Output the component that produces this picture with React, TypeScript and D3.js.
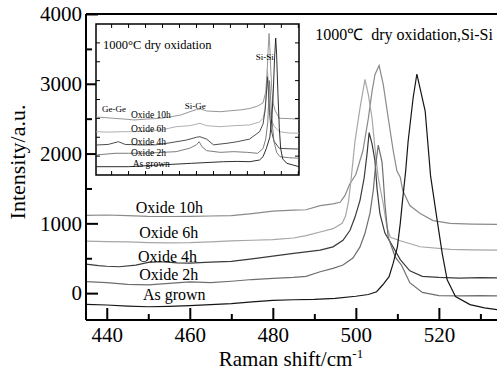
import React, { useEffect, useRef } from 'react';
import * as d3 from 'd3';

// main chart series: [Raman shift, intensity]
const asGrown: [number, number][] = [
  [435, -160], [440, -170], [445, -185], [450, -195], [455, -190], [460, -180], [465, -165],
  [470, -150], [475, -125], [480, -105], [485, -95], [490, -90], [495, -75], [500, -45],
  [503, -20], [505, 20], [506.5, 120], [508, 235], [509, 430], [510, 660], [510.7, 1000],
  [511.2, 1300], [512, 1750], [512.6, 2180], [513.8, 2800], [514.7, 3140], [516.7, 2610],
  [518, 1680], [519.6, 1040], [520.8, 570], [522, 190], [524, -50], [527.5, -165],
  [531, -210], [534, -237],
];

const oxide2h: [number, number][] = [
  [435, 165], [440, 150], [445, 125], [450, 118], [455, 140], [460, 160], [465, 150],
  [470, 170], [475, 195], [480, 212], [485, 225], [488, 240], [491.4, 307], [494.5, 355],
  [496.9, 402], [499.3, 502], [501, 663], [502.2, 857], [503.4, 1142], [504.2, 1470],
  [504.7, 1800], [505.4, 2120], [506.3, 1880], [506.6, 1650], [507, 1280], [507.8, 800],
  [509.5, 516], [511, 400], [513, 150], [516, 10], [520, -35], [525, -40], [530, -35], [534, -38],
];

const oxide4h: [number, number][] = [
  [435, 417], [438, 395], [440, 385], [443, 378], [447, 402], [450, 440], [453, 450],
  [457, 435], [460, 430], [465, 445], [470, 455], [475, 490], [480, 530], [485, 570],
  [488, 590], [491.4, 616], [494.5, 663], [496.9, 758], [498.6, 900], [499.8, 1090],
  [501, 1330], [502, 1650], [502.7, 2000], [503.2, 2300], [503.9, 2140], [504.6, 1900],
  [505.1, 1500], [505.8, 1140], [507, 860], [508.7, 690], [510.7, 480], [513, 320],
  [516, 240], [520, 225], [525, 215], [530, 222], [534, 218],
];

const oxide6h: [number, number][] = [
  [435, 744], [440, 738], [445, 734], [450, 724], [455, 720], [460, 724], [465, 735],
  [470, 748], [475, 758], [480, 768], [485, 790], [488, 825], [491.4, 876], [494.5, 924],
  [496.7, 1000], [497.5, 1100], [498.2, 1300], [498.8, 1600], [499.8, 2180], [501, 2650],
  [502.2, 3062], [503, 2850], [503.9, 2510], [504.6, 2080], [505.4, 1650], [506.6, 1280],
  [507.5, 940], [508.3, 800], [510.7, 750], [515.5, 665], [522.7, 626], [528, 620], [534, 616],
];

const oxide10h: [number, number][] = [
  [435, 1114], [440, 1120], [445, 1110], [450, 1100], [455, 1098], [460, 1100], [465, 1105],
  [470, 1110], [475, 1140], [480, 1175], [485, 1190], [488, 1195], [491.4, 1255], [494.5, 1280],
  [496.2, 1302], [497.4, 1400], [498.5, 1560], [500, 1700], [501.7, 2040], [503, 2500],
  [503.9, 2890], [504.6, 3130], [505.6, 3262], [506.6, 2990], [507.8, 2510], [509, 2040],
  [509.9, 1750], [510.7, 1660], [511.3, 1470], [513, 1255], [515.5, 1140], [518.6, 1040],
  [522.7, 1000], [528, 990], [534, 985],
];

// inset series (wide range spectrum)
const insetAsGrown: [number, number][] = [
  [252, 440], [300, 440], [345, 530], [393, 620], [440, 705], [460, 720], [478.5, 705],
  [493, 795], [498, 970], [503, 1414], [508, 2000], [511, 3000], [513, 4300], [515, 6200],
  [516.7, 7250], [518, 6400], [520, 4300], [522, 2500], [524, 1400], [527, 850], [533, 620], [551, 440],
];
const inset2h: [number, number][] = [
  [252, 1060], [280, 1150], [300, 1150], [320, 1150], [350, 1200], [370, 1236], [390, 1420],
  [400, 1600], [404, 1764], [408, 1500], [415, 1290], [435, 1200], [455, 1236], [475, 1200],
  [490, 1150], [498, 1400], [502, 1900], [505, 2800], [507.5, 5000], [509, 4200], [511, 3000],
  [514, 1800], [518, 1200], [523, 970], [535, 920], [551, 885],
];
const inset4h: [number, number][] = [
  [252, 1589], [270, 1620], [285, 1764], [295, 1620], [320, 1589], [340, 1600], [360, 1700],
  [385, 1850], [400, 2000], [405, 2029], [415, 1900], [425, 1600], [445, 1680], [460, 1764],
  [478, 1900], [493, 2294], [498, 2700], [501, 3400], [503, 4300], [504.5, 5200], [506, 4400],
  [507.5, 3300], [510, 2400], [514, 1800], [522, 1414], [535, 1390], [551, 1377],
];
const inset6h: [number, number][] = [
  [252, 2294], [270, 2270], [290, 2294], [310, 2294], [325, 2330], [347, 2384], [360, 2480],
  [370, 2559], [390, 2612], [405, 2739], [415, 2612], [435, 2559], [455, 2612], [478, 2650],
  [493, 2810], [498, 3000], [501, 3500], [503, 4500], [504.5, 5600], [506, 4800], [507.5, 3800],
  [510, 3000], [514, 2600], [522, 2294], [535, 2230], [551, 2209],
];
const inset10h: [number, number][] = [
  [252, 3073], [265, 3040], [278, 3004], [295, 2960], [308, 2914], [325, 2960], [347, 3004],
  [365, 3100], [377, 3179], [390, 3350], [400, 3470], [406, 3497], [415, 3391], [435, 3354],
  [449, 3400], [465, 3450], [478, 3520], [490, 3650], [498, 3820], [502, 4400], [504, 5400],
  [505.5, 6600], [506.9, 7500], [508, 6800], [509.5, 5500], [511, 4500], [513, 3800],
  [516, 3400], [522, 3004], [535, 2990], [551, 2960],
];

const seriesNames = ['Oxide 10h', 'Oxide 6h', 'Oxide 4h', 'Oxide 2h', 'As grown'];
const seriesColors = ['#8a8a8a', '#a6a6a6', '#3a3a3a', '#6e6e6e', '#161616'];
const mainSeries = [oxide10h, oxide6h, oxide4h, oxide2h, asGrown];
const insetSeries = [inset10h, inset6h, inset4h, inset2h, insetAsGrown];

// label anchors in data units
const mainLabelPos: [number, number][] = [[447, 1142], [447.8, 786], [447.5, 445], [447.8, 189], [448.7, -95]];
const insetLabelPos: [number, number][] = [[303.5, 3020], [303.5, 2294], [303.5, 1589], [303.5, 1022], [306, 440]];

const xMajor = [440, 460, 480, 500, 520];
const xMinor = [450, 470, 490, 510, 530];
const yMajor = [0, 1000, 2000, 3000, 4000];
const yMinor = [500, 1500, 2500, 3500];
const insetXTicks = d3.range(275, 551, 25);
const insetYTicks = d3.range(1000, 8000, 1000);

const FONT = "'Liberation Serif', 'Times New Roman', Times, serif";

export default function App() {
  const svgRef = useRef<SVGSVGElement>(null);

  useEffect(() => {
    if (!svgRef.current) return;
    const width = 497;
    const height = 374;
    const margin = { top: 14, right: 0, bottom: 54, left: 86 };

    const svg = d3
      .select(svgRef.current)
      .attr('width', width)
      .attr('height', height)
      .attr('font-family', FONT);
    svg.selectAll('*').remove();

    const x = d3.scaleLinear().domain([435, 534]).range([margin.left, width - margin.right]);
    const y = d3.scaleLinear().domain([-385, 4000]).range([height - margin.bottom, margin.top]);

    const line = d3
      .line<[number, number]>()
      .x((d) => x(d[0]))
      .y((d) => y(d[1]));

    // curves
    mainSeries.forEach((s, i) => {
      svg
        .append('path')
        .attr('d', line(s))
        .attr('fill', 'none')
        .attr('stroke', seriesColors[i])
        .attr('stroke-width', 1.2);
    });

    // axes
    const xAxis = svg.append('g').attr('transform', `translate(0,${height - margin.bottom})`);
    xAxis.call(d3.axisBottom(x).tickValues(xMajor).tickSize(-12).tickPadding(7).tickFormat(d3.format('d')));
    xAxis.append('g').call(d3.axisBottom(x).tickValues(xMinor).tickSize(-6).tickFormat(() => ''));

    const yAxis = svg.append('g').attr('transform', `translate(${margin.left},0)`);
    yAxis.call(d3.axisLeft(y).tickValues(yMajor).tickSize(-12).tickPadding(4).tickFormat(d3.format('d')));
    yAxis.append('g').call(d3.axisLeft(y).tickValues(yMinor).tickSize(-6).tickFormat(() => ''));

    svg.selectAll('.domain').remove();
    xAxis.attr('font-family', FONT).attr('font-size', 21);
    yAxis.attr('font-family', FONT).attr('font-size', 21);
    svg.selectAll('.tick line').attr('stroke', '#000').attr('stroke-width', 2);
    svg.selectAll('.tick text').attr('fill', '#000').attr('font-family', FONT).attr('font-size', 21);

    // frame lines
    const frame = svg.append('g').attr('stroke', '#000').attr('stroke-width', 2);
    frame.append('line').attr('x1', margin.left).attr('x2', width).attr('y1', y(-385)).attr('y2', y(-385));
    frame.append('line').attr('x1', margin.left).attr('x2', margin.left).attr('y1', y(4000)).attr('y2', y(-385));
    frame.append('line').attr('x1', margin.left).attr('x2', width).attr('y1', y(4000)).attr('y2', y(4000));

    // axis titles
    svg
      .append('text')
      .attr('x', 291)
      .attr('y', 366)
      .attr('text-anchor', 'middle')
      .attr('font-size', 21)
      .text('Raman shift/cm')
      .append('tspan')
      .attr('dy', -8)
      .attr('font-size', 13)
      .text('-1');

    svg
      .append('text')
      .attr('transform', 'translate(25,162) rotate(-90)')
      .attr('text-anchor', 'middle')
      .attr('font-size', 22)
      .text('Intensity/a.u.');

    // series labels
    seriesNames.forEach((name, i) => {
      svg
        .append('text')
        .attr('x', x(mainLabelPos[i][0]))
        .attr('y', y(mainLabelPos[i][1]))
        .attr('font-size', 16)
        .text(name);
    });

    svg
      .append('text')
      .attr('x', x(490.2))
      .attr('y', y(3630))
      .attr('font-size', 16)
      .style('white-space', 'pre')
      .text('1000\u2103  dry oxidation,Si-Si');

    // inset
    const ix = d3.scaleLinear().domain([252, 551]).range([96, 299]);
    const iy = d3.scaleLinear().domain([0, 8000]).range([175, 24]);
    const inset = svg.append('g');
    inset
      .append('rect')
      .attr('x', 96)
      .attr('y', 24)
      .attr('width', 203)
      .attr('height', 151)
      .attr('fill', '#fff')
      .attr('stroke', '#000')
      .attr('stroke-width', 1.5);

    const iline = d3
      .line<[number, number]>()
      .x((d) => ix(d[0]))
      .y((d) => iy(d[1]));

    insetSeries.forEach((s, i) => {
      inset
        .append('path')
        .attr('d', iline(s))
        .attr('fill', 'none')
        .attr('stroke', seriesColors[i])
        .attr('stroke-width', 0.9);
    });

    const itick = inset.append('g').attr('stroke', '#000').attr('stroke-width', 1);
    insetXTicks.forEach((t) => {
      itick.append('line').attr('x1', ix(t)).attr('x2', ix(t)).attr('y1', 175).attr('y2', 171);
      itick.append('line').attr('x1', ix(t)).attr('x2', ix(t)).attr('y1', 24).attr('y2', 28);
    });
    insetYTicks.forEach((t) => {
      itick.append('line').attr('x1', 96).attr('x2', 100).attr('y1', iy(t)).attr('y2', iy(t));
      itick.append('line').attr('x1', 299).attr('x2', 295).attr('y1', iy(t)).attr('y2', iy(t));
    });

    inset
      .append('text')
      .attr('x', ix(262.3))
      .attr('y', iy(6675))
      .attr('font-size', 12.5)
      .text('1000\u00b0C dry oxidation');

    const peakLabels: [string, number, number][] = [
      ['Si-Si', 487.3, 6093],
      ['Ge-Ge', 260.8, 3338],
      ['Si-Ge', 382.9, 3497],
    ];
    peakLabels.forEach(([t, px, py]) => {
      inset
        .append('text')
        .attr('x', ix(px))
        .attr('y', iy(py))
        .attr('font-size', 9)
        .text(t);
    });

    seriesNames.forEach((name, i) => {
      inset
        .append('text')
        .attr('x', ix(insetLabelPos[i][0]))
        .attr('y', iy(insetLabelPos[i][1]))
        .attr('font-size', 9.5)
        .text(name);
    });
  }, []);

  return (
    <div style={{ position: 'absolute', left: 0, top: 0, background: '#fff' }}>
      <svg ref={svgRef} style={{ display: 'block' }} />
    </div>
  );
}
